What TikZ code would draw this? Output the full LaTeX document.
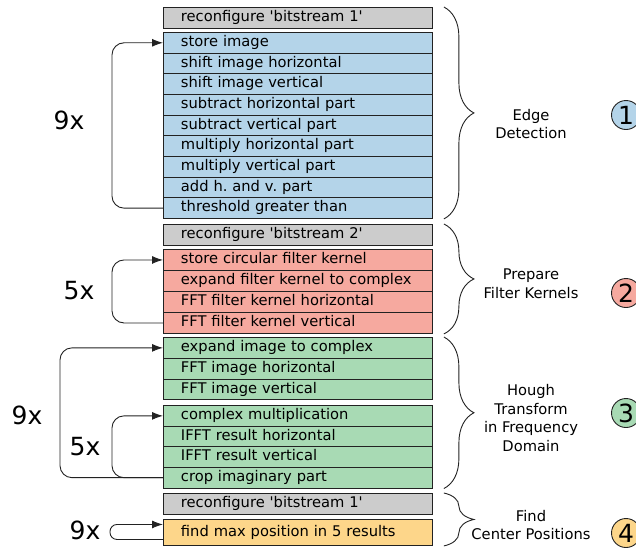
\documentclass[tikz,border=0pt]{standalone}
\usepackage{fontspec}
\setmainfont{DejaVu Sans}
\usetikzlibrary{arrows.meta,decorations.pathreplacing}

\definecolor{edgeblue}{HTML}{B4D4E9}
\definecolor{kernred}{HTML}{F6A99F}
\definecolor{houghgreen}{HTML}{A8DAB4}
\definecolor{findorange}{HTML}{FDD68A}
\definecolor{cfggray}{HTML}{CCCCCC}
\definecolor{linegray}{HTML}{222222}

\newcommand{\stepfont}{\fontsize{14.7}{18.7}\selectfont\frenchspacing}
\newcommand{\repfont}{\fontsize{25}{30}\selectfont}
% straight quotes round the bitstream names
\newcommand{\bitfile}[1]{\textquotesingle#1\textquotesingle}

\tikzset{
  op/.style={draw=linegray, line width=0.9pt, anchor=north west,
    inner xsep=17.5pt, inner ysep=0pt, text width=234pt, align=left,
    text height=11pt, text depth=3.5pt, font=\stepfont},
  cfg/.style={op, fill=cfggray, minimum height=20.5pt},
  edgeop/.style={op, fill=edgeblue, minimum height=20.67pt},
  kernop/.style={op, fill=kernred, minimum height=21pt},
  houghop/.style={op, fill=houghgreen, minimum height=20.8pt},
  findop/.style={op, fill=findorange, minimum height=26pt},
  loopline/.style={draw=linegray, line width=0.9pt, rounded corners=12pt,
    -{Latex[length=11pt,width=8pt]}},
  reps/.style={font=\repfont},
  bracedeco/.style={draw=linegray, line width=0.9pt, decorate,
    decoration={brace, amplitude=30pt}},
  phasename/.style={font=\stepfont, align=center},
  phase/.style={circle, draw=linegray, line width=0.9pt, minimum size=29pt,
    inner sep=0pt, font=\repfont},
}

\begin{document}
\begin{tikzpicture}[x=1pt,y=-1pt]
    \useasboundingbox (0,0) rectangle (636,550);

    % edge detection
    \node[cfg] (rc1) at (163,7) {reconfigure \bitfile{bitstream 1}};
    \node[edgeop] (store) at (163,32) {store image};
    \node[edgeop] (shifth) at (163,52.67) {shift image horizontal};
    \node[edgeop] (shiftv) at (163,73.33) {shift image vertical};
    \node[edgeop] (subh) at (163,94) {subtract horizontal part};
    \node[edgeop] (subv) at (163,114.67) {subtract vertical part};
    \node[edgeop] (mulh) at (163,135.33) {multiply horizontal part};
    \node[edgeop] (mulv) at (163,156) {multiply vertical part};
    \node[edgeop] (addhv) at (163,176.67) {add h. and v. part};
    \node[edgeop] (thresh) at (163,197.33) {threshold greater than};

    % filter kernels
    \node[cfg] (rc2) at (163,224) {reconfigure \bitfile{bitstream 2}};
    \node[kernop] (storek) at (163,249) {store circular filter kernel};
    \node[kernop] (expk) at (163,270) {expand filter kernel to complex};
    \node[kernop] (fftkh) at (163,291) {FFT filter kernel horizontal};
    \node[kernop] (fftkv) at (163,312) {FFT filter kernel vertical};

    % hough transform
    \node[houghop] (expi) at (163,337) {expand image to complex};
    \node[houghop] (fftih) at (163,357.8) {FFT image horizontal};
    \node[houghop] (fftiv) at (163,378.6) {FFT image vertical};
    \node[houghop] (cmul) at (163,405) {complex multiplication};
    \node[houghop] (iffth) at (163,425.6) {IFFT result horizontal};
    \node[houghop] (ifftv) at (163,446.2) {IFFT result vertical};
    \node[houghop] (crop) at (163,466.8) {crop imaginary part};

    % center positions
    \node[cfg] (rc3) at (163,493) {reconfigure \bitfile{bitstream 1}};
    \node[findop] (fmax) at (163,519) {find max position in 5 results};

    % loops
    \draw[loopline] (thresh.west) -- ++(-51,0) |- (store.west);
    \draw[loopline] (fftkv.west) -- ++(-51,0) |- (storek.west);
    \draw[loopline] (crop.west) -- ++(-103,0) |- (expi.west);
    \draw[loopline] (crop.west) -- ++(-51,0) |- (cmul.west);
    \draw[loopline, rounded corners=7pt] ([yshift=-7pt]fmax.west) -- ++(-53,0) |- ([yshift=8pt]fmax.west);

    \node[reps] (n1) at (69,120) {9x};
    \node[reps] (n2) at (79,291) {5x};
    \node[reps] (n3) at (27,415) {9x};
    \node[reps] (n4) at (85,447) {5x};
    \node[reps] (n5) at (85,530) {9x};

    % phases
    \draw[bracedeco] ([xshift=11pt]rc1.north east) -- ([xshift=11pt]thresh.south east);
    \draw[bracedeco] ([xshift=11pt]rc2.north east) -- ([xshift=11pt]fftkv.south east);
    \draw[bracedeco] ([xshift=11pt]expi.north east) -- ([xshift=11pt]crop.south east);
    \draw[bracedeco] ([xshift=11pt]rc3.north east) -- ([xshift=11pt]fmax.south east);

    \node[phasename] (p1) at (531,124) {Edge\\Detection};
    \node[phasename] (p2) at (531,284) {Prepare\\Filter Kernels};
    \node[phasename] (p3) at (531,418) {Hough\\Transform\\in Frequency\\Domain};
    \node[phasename] (p4) at (531,525) {Find\\Center Positions};

    \node[phase, fill=edgeblue] (c1) at (626,115) {1};
    \node[phase, fill=kernred] (c2) at (626,293) {2};
    \node[phase, fill=houghgreen] (c3) at (626,413) {3};
    \node[phase, fill=findorange] (c4) at (626,533) {4};
\end{tikzpicture}
\end{document}
